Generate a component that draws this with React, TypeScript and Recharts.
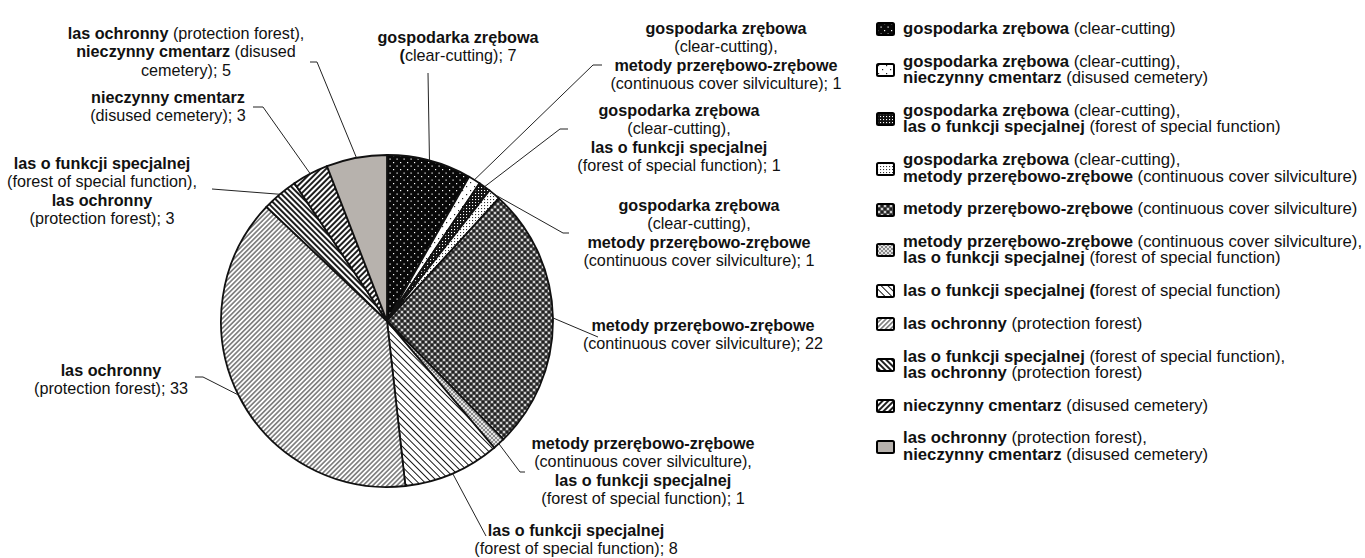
import { Cell, Legend, Pie, PieChart } from "recharts";

const CATEGORIES = [
  "gospodarka zrębowa",
  "gospodarka zrębowa + nieczynny cmentarz",
  "gospodarka zrębowa + las o funkcji specjalnej",
  "gospodarka zrębowa + metody przerębowo-zrębowe",
  "metody przerębowo-zrębowe",
  "metody przerębowo-zrębowe + las o funkcji specjalnej",
  "las o funkcji specjalnej",
  "las ochronny",
  "las o funkcji specjalnej + las ochronny",
  "nieczynny cmentarz",
  "las ochronny + nieczynny cmentarz",
];

const VALUES = [7, 1, 1, 1, 22, 1, 8, 33, 3, 3, 5];

// "**...**" marks bold parts
const LEGEND_LINES: string[][] = [
  ["**gospodarka zrębowa** (clear-cutting)"],
  ["**gospodarka zrębowa** (clear-cutting),", "**nieczynny cmentarz** (disused cemetery)"],
  ["**gospodarka zrębowa** (clear-cutting),", "**las o funkcji specjalnej** (forest of special function)"],
  ["**gospodarka zrębowa** (clear-cutting),", "**metody przerębowo-zrębowe** (continuous cover silviculture)"],
  ["**metody przerębowo-zrębowe** (continuous cover silviculture)"],
  ["**metody przerębowo-zrębowe** (continuous cover silviculture),", "**las o funkcji specjalnej** (forest of special function)"],
  ["**las o funkcji specjalnej (**forest of special function)"],
  ["**las ochronny** (protection forest)"],
  ["**las o funkcji specjalnej** (forest of special function),", "**las ochronny** (protection forest)"],
  ["**nieczynny cmentarz** (disused cemetery)"],
  ["**las ochronny** (protection forest),", "**nieczynny cmentarz** (disused cemetery)"],
];

const LABEL_LINES: string[][] = [
  ["**gospodarka zrębowa**", "**(**clear-cutting); 7"],
  ["**gospodarka zrębowa**", "(clear-cutting),", "**metody przerębowo-zrębowe**", "(continuous cover silviculture); 1"],
  ["**gospodarka zrębowa**", "(clear-cutting),", "**las o funkcji specjalnej**", "(forest of special function); 1"],
  ["**gospodarka zrębowa**", "(clear-cutting),", "**metody przerębowo-zrębowe**", "(continuous cover silviculture); 1"],
  ["**metody przerębowo-zrębowe**", "(continuous cover silviculture); 22"],
  ["**metody przerębowo-zrębowe**", "(continuous cover silviculture),", "**las o funkcji specjalnej**", "(forest of special function); 1"],
  ["**las o funkcji specjalnej**", "(forest of special function); 8"],
  ["**las ochronny**", "(protection forest); 33"],
  ["**las o funkcji specjalnej**", "(forest of special function),", "**las ochronny**", "(protection forest); 3"],
  ["**nieczynny cmentarz**", "(disused cemetery); 3"],
  ["**las ochronny** (protection forest),", "**nieczynny cmentarz** (disused", "cemetery); 5"],
];

// label placement: text centre x, first line centre y, leader bend points
const LABEL_LAYOUT = [
  { x: 458, y: 37, path: [[428, 73]] },
  { x: 726, y: 28, path: [[593, 65], [602, 65]] },
  { x: 679, y: 110, path: [[560, 129], [568, 129]] },
  { x: 699, y: 205, path: [[563, 233], [569, 233]] },
  { x: 703, y: 325, path: [[598, 337]] },
  { x: 643, y: 443, path: [[520, 472], [525, 472]] },
  { x: 576, y: 530, path: [[486, 536]] },
  { x: 111, y: 370, path: [[203, 377], [195, 377]] },
  { x: 102, y: 163, path: [[212, 189]] },
  { x: 168, y: 97, path: [[263, 107], [253, 107]] },
  { x: 186, y: 33, path: [[317, 62], [310, 62]] },
];

const FONT = "'Liberation Sans', Arial, sans-serif";
const LINE_H = 18.6;
const RAD = Math.PI / 180;

const data = CATEGORIES.map((name, i) => ({ name, value: VALUES[i] }));

function segments(line: string) {
  return line.split("**").map((s, i) =>
    s ? (
      <tspan key={i} fontWeight={i % 2 === 1 ? "bold" : "normal"}>
        {s}
      </tspan>
    ) : null
  );
}

function Patterns() {
  const hatch = (id: string, size: number, w: number, angle: number) => (
    <pattern id={id} width={size} height={size} patternUnits="userSpaceOnUse" patternTransform={`rotate(${angle})`}>
      <rect width={size} height={size} fill="#fff" />
      <line x1={0} y1={size / 2} x2={size} y2={size / 2} stroke="#111" strokeWidth={w} />
    </pattern>
  );
  return (
    <svg width={0} height={0} style={{ position: "absolute" }}>
      <defs>
        <pattern id="pat0" width={7} height={7} patternUnits="userSpaceOnUse">
          <rect width={7} height={7} fill="#080808" />
          <rect x={1} y={1} width={1.2} height={1.2} fill="#fff" />
          <rect x={4.5} y={4.5} width={1.2} height={1.2} fill="#fff" />
        </pattern>
        <pattern id="pat1" width={8} height={8} patternUnits="userSpaceOnUse">
          <rect width={8} height={8} fill="#fff" />
          <rect x={2} y={2} width={1.2} height={1.2} fill="#222" />
          <rect x={6} y={6} width={1.2} height={1.2} fill="#222" />
        </pattern>
        <pattern id="pat2" width={3} height={3} patternUnits="userSpaceOnUse">
          <rect width={3} height={3} fill="#111" />
          <rect x={1} y={1} width={1.1} height={1.1} fill="#fff" />
        </pattern>
        <pattern id="pat3" width={3} height={3} patternUnits="userSpaceOnUse">
          <rect width={3} height={3} fill="#fff" />
          <rect x={1} y={1} width={1.1} height={1.1} fill="#333" />
        </pattern>
        <pattern id="pat4" width={6} height={6} patternUnits="userSpaceOnUse">
          <rect width={6} height={6} fill="#4e4e4e" />
          <circle cx={0} cy={0} r={1.1} fill="#eee" />
          <circle cx={6} cy={0} r={1.1} fill="#eee" />
          <circle cx={0} cy={6} r={1.1} fill="#eee" />
          <circle cx={6} cy={6} r={1.1} fill="#eee" />
          <circle cx={3} cy={3} r={1.1} fill="#eee" />
          <circle cx={3} cy={0} r={1} fill="#111" />
          <circle cx={0} cy={3} r={1} fill="#111" />
          <circle cx={6} cy={3} r={1} fill="#111" />
          <circle cx={3} cy={6} r={1} fill="#111" />
        </pattern>
        <pattern id="pat5" width={4} height={4} patternUnits="userSpaceOnUse">
          <rect width={4} height={4} fill="#a8a8a8" />
          <circle cx={2} cy={2} r={0.9} fill="#fff" />
          <circle cx={0} cy={0} r={0.9} fill="#fff" />
          <circle cx={4} cy={0} r={0.9} fill="#fff" />
          <circle cx={0} cy={4} r={0.9} fill="#fff" />
          <circle cx={4} cy={4} r={0.9} fill="#fff" />
          <circle cx={2} cy={0} r={0.7} fill="#555" />
          <circle cx={0} cy={2} r={0.7} fill="#555" />
          <circle cx={4} cy={2} r={0.7} fill="#555" />
          <circle cx={2} cy={4} r={0.7} fill="#555" />
        </pattern>
        {hatch("pat6", 4.8, 1, 45)}
        {hatch("pat7", 3.4, 0.9, -45)}
        {hatch("pat8", 4, 1.9, 45)}
        {hatch("pat9", 4, 1.9, -45)}
        <pattern id="pat10" width={4} height={4} patternUnits="userSpaceOnUse">
          <rect width={4} height={4} fill="#b7b2ad" />
        </pattern>
      </defs>
    </svg>
  );
}

function SliceLabel(props: any) {
  const { cx, cy, midAngle, outerRadius, index } = props;
  const lay = LABEL_LAYOUT[index];
  const sx = cx + outerRadius * Math.cos(-midAngle * RAD);
  const sy = cy + outerRadius * Math.sin(-midAngle * RAD);
  const pts = [[sx, sy], ...lay.path].map((p) => p.join(",")).join(" ");
  return (
    <g>
      <polyline points={pts} fill="none" stroke="#222" strokeWidth={1} />
      {LABEL_LINES[index].map((line, i) => (
        <text
          key={i}
          x={lay.x}
          y={lay.y + i * LINE_H + 5.6}
          textAnchor="middle"
          fontSize={16.2}
          fontFamily={FONT}
          fill="#111"
        >
          {segments(line)}
        </text>
      ))}
    </g>
  );
}

function LegendBox(props: any) {
  const payload = props.payload || [];
  return (
    <div style={{ fontFamily: FONT, fontSize: 16.7, color: "#111", lineHeight: "16.5px" }}>
      {payload.map((entry: any, i: number) => (
        <div key={i} style={{ display: "flex", alignItems: "center", marginBottom: 16.2 }}>
          <svg width={19} height={14} style={{ marginRight: 8, flexShrink: 0 }}>
            <rect x={1} y={1} width={17} height={12} rx={1.5} fill={`url(#pat${i})`} stroke="#000" strokeWidth={2} />
          </svg>
          <div style={{ whiteSpace: "nowrap" }}>
            {LEGEND_LINES[i].map((line, j) => (
              <div key={j}>
                {line.split("**").map((s, k) => (
                  <span key={k} style={{ fontWeight: k % 2 === 1 ? "bold" : "normal" }}>
                    {s}
                  </span>
                ))}
              </div>
            ))}
          </div>
        </div>
      ))}
    </div>
  );
}

export default function App() {
  return (
    <div style={{ position: "absolute", left: 0, top: 0, width: 1365, height: 558, background: "#fff" }}>
      <Patterns />
      <PieChart width={1365} height={558} margin={{ top: 0, right: 0, bottom: 0, left: 0 }}>
        <Pie
          data={data}
          dataKey="value"
          nameKey="name"
          cx={387}
          cy={321}
          outerRadius={166}
          startAngle={90}
          endAngle={-270}
          stroke="#111"
          strokeWidth={1.8}
          label={SliceLabel}
          labelLine={false}
          isAnimationActive={false}
        >
          {data.map((d, i) => (
            <Cell key={d.name} fill={`url(#pat${i})`} />
          ))}
        </Pie>
        <Legend
          layout="vertical"
          align="right"
          verticalAlign="top"
          content={LegendBox}
          wrapperStyle={{ left: 876, top: 21, width: 489, right: "auto" }}
        />
      </PieChart>
    </div>
  );
}
